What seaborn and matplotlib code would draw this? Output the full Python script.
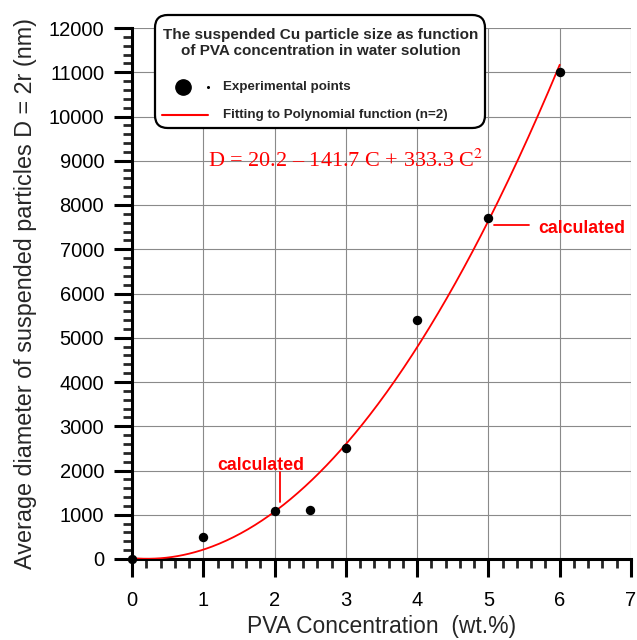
import numpy as np
import pandas as pd
import matplotlib
matplotlib.use("Agg")
import matplotlib.pyplot as plt
from matplotlib.lines import Line2D
from matplotlib.patches import FancyBboxPatch
from matplotlib.ticker import MultipleLocator
import seaborn as sns

# Measured particle size vs PVA concentration
conc = [0, 1, 2, 2.5, 3, 4, 5, 6]
diameter = [0, 500, 1080, 1100, 2500, 5400, 7700, 11000]

# Second-order polynomial fit coefficients: D = a0 + a1*C + a2*C^2
fit_coef = [20.2, -141.7, 333.3]

x_ticks = [0, 1, 2, 3, 4, 5, 6, 7]
y_ticks = [0, 1000, 2000, 3000, 4000, 5000, 6000, 7000, 8000, 9000, 10000, 11000, 12000]

legend_title = "The suspended Cu particle size as function\nof PVA concentration in water solution"
legend_labels = ["Experimental points", "Fitting to Polynomial function (n=2)"]

sns.set_style("ticks")
plt.rcParams["font.family"] = ["Liberation Sans", "DejaVu Sans"]

points = pd.DataFrame({"C": conc, "D": diameter})
c_fit = np.linspace(0, 6, 300)
d_fit = fit_coef[0] + fit_coef[1] * c_fit + fit_coef[2] * c_fit ** 2
curve = pd.DataFrame({"C": c_fit, "D": d_fit})

W, H = 637, 640
fig = plt.figure(figsize=(W / 100, H / 100), dpi=100)
ax = fig.add_axes([132 / W, 1 - 559 / H, 499 / W, 531 / H])


def fpos(px, py):
    """Pixel position (from top-left) to figure fraction."""
    return px / W, 1 - py / H


sns.lineplot(data=curve, x="C", y="D", color="red", linewidth=1.3, ax=ax, zorder=3)
sns.scatterplot(data=points, x="C", y="D", color="black", s=46, edgecolor="black",
                linewidth=0, ax=ax, zorder=4, clip_on=False)

ax.set_xlim(0, 7)
ax.set_ylim(0, 12000)
ax.set_xticks(x_ticks)
ax.set_yticks(y_ticks)
ax.xaxis.set_minor_locator(MultipleLocator(0.2))
ax.yaxis.set_minor_locator(MultipleLocator(200))
ax.grid(True, which="major", color="#8a8a8a", linewidth=0.8)
ax.set_axisbelow(True)

for side in ("top", "right"):
    ax.spines[side].set_visible(False)
for side in ("left", "bottom"):
    ax.spines[side].set_linewidth(2.2)
    ax.spines[side].set_color("black")

ax.tick_params(axis="both", which="major", length=13, width=2.2, direction="out",
               labelsize=14.5, colors="black")
ax.tick_params(axis="x", which="major", pad=10)
ax.tick_params(axis="y", which="major", pad=7)
ax.tick_params(axis="both", which="minor", length=6.5, width=2.0, direction="out")

ax.set_xlabel("PVA Concentration  (wt.%)", fontsize=16.5, labelpad=4)
ax.set_ylabel("Average diameter of suspended particles D = 2r (nm)", fontsize=16.8, labelpad=8)

# Fitted equation
ax.text(3.0, 9000, "D = 20.2 \u2013 141.7 C + 333.3 C$^2$", color="red",
        fontsize=16, family=["Liberation Serif", "DejaVu Serif"],
        ha="center", va="center", math_fontfamily="stix")

# "calculated" callouts
ax.text(1.80, 2124, "calculated", color="red", fontsize=12.8, fontweight="bold",
        ha="center", va="center")
ax.plot([2.076, 2.076], [1966, 1288], color="red", linewidth=1.3)
ax.text(5.695, 7480, "calculated", color="red", fontsize=12.8, fontweight="bold",
        ha="left", va="center")
ax.plot([5.08, 5.57], [7548, 7548], color="red", linewidth=1.3)

# Legend box with title and two entries
x0, y0 = fpos(155, 128)
x1, y1 = fpos(485, 15)
frame = FancyBboxPatch((x0, y0), x1 - x0, y1 - y0, transform=fig.transFigure,
                       boxstyle="round,pad=0,rounding_size=0.02",
                       facecolor="white", edgecolor="black", linewidth=1.6, zorder=10)
fig.add_artist(frame)
fig.text(*fpos(321, 43), legend_title, ha="center", va="center", multialignment="center",
         fontsize=11, fontweight="bold", linespacing=1.15, zorder=11)
fig.add_artist(Line2D([fpos(183, 87)[0]], [fpos(183, 87)[1]], marker="o", markersize=11,
                      color="black", linestyle="none", transform=fig.transFigure, zorder=11))
fig.add_artist(Line2D([fpos(208, 87)[0]], [fpos(208, 87)[1]], marker="o", markersize=1.2,
                      color="black", linestyle="none", transform=fig.transFigure, zorder=11))
fig.add_artist(Line2D([fpos(162, 115)[0], fpos(208, 115)[0]],
                      [fpos(162, 115)[1], fpos(208, 115)[1]],
                      color="red", linewidth=1.5, transform=fig.transFigure, zorder=11))
fig.text(*fpos(223, 87), legend_labels[0], ha="left", va="center",
         fontsize=9.6, fontweight="bold", zorder=11)
fig.text(*fpos(223, 115), legend_labels[1], ha="left", va="center",
         fontsize=9.6, fontweight="bold", zorder=11)

fig.savefig("out.png", dpi=100)
